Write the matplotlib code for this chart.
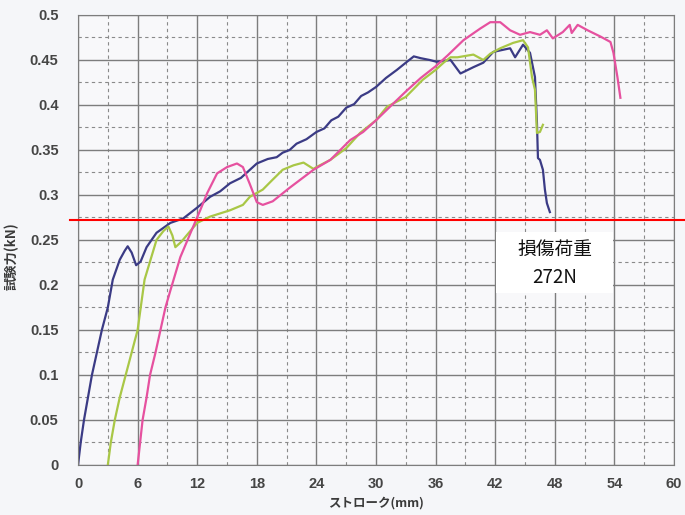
import numpy as np
import matplotlib.pyplot as plt
from matplotlib.patches import Rectangle
from matplotlib.ticker import MultipleLocator

plt.rcParams['font.family'] = ['Noto Sans CJK JP', 'DejaVu Sans']

# 試験片1 (紺)
x1 = [0, 0.27, 0.6, 1.0, 1.4, 1.9, 2.4, 3.0, 3.5, 4.2, 4.7, 5.0, 5.4, 5.85, 6.3,
      6.9, 7.9, 9.3, 10.6, 12.0, 13.3, 14.3, 15.3, 16.4, 17.3, 18.0, 19.1, 20.0,
      20.6, 21.3, 22.0, 23.0, 24.0, 24.8, 25.5, 26.2, 27.0, 27.8, 28.5, 29.2, 30.0,
      31.0, 32.1, 33.0, 33.8, 34.5, 35.4, 36.1, 37.5, 38.5, 39.8, 40.8, 41.8, 43.5,
      44.0, 44.8, 45.5, 46.0, 46.2, 46.3, 46.5, 46.8, 47.0, 47.2, 47.5]
y1 = [0, 0.025, 0.05, 0.075, 0.1, 0.125, 0.15, 0.175, 0.206, 0.228, 0.238, 0.243,
      0.236, 0.222, 0.226, 0.242, 0.258, 0.269, 0.274, 0.286, 0.298, 0.304, 0.313,
      0.319, 0.328, 0.335, 0.34, 0.342, 0.347, 0.35, 0.357, 0.362, 0.37, 0.374,
      0.383, 0.387, 0.397, 0.401, 0.41, 0.414, 0.42, 0.43, 0.439, 0.447, 0.454,
      0.452, 0.45, 0.448, 0.45, 0.435, 0.442, 0.447, 0.459, 0.463, 0.453, 0.467,
      0.458, 0.431, 0.38, 0.341, 0.339, 0.328, 0.306, 0.291, 0.281]

# 試験片2 (黄緑)
x2 = [3.0, 3.3, 3.7, 4.2, 4.8, 5.4, 6.0, 6.7, 7.9, 8.6, 9.1, 9.5, 9.8, 10.4, 11.0,
      12.0, 13.3, 15.3, 16.6, 17.3, 18.6, 19.5, 20.6, 21.7, 22.7, 23.7, 24.0, 25.4,
      27.0, 28.4, 30.0, 31.1, 33.0, 34.7, 36.0, 36.8, 37.5, 38.2, 39.8, 40.8, 41.5,
      42.5, 43.8, 44.8, 45.3, 45.7, 46.0, 46.2, 46.5, 46.8]
y2 = [0, 0.025, 0.05, 0.075, 0.1, 0.125, 0.15, 0.206, 0.25, 0.26, 0.265, 0.255,
      0.242, 0.248, 0.256, 0.269, 0.276, 0.283, 0.289, 0.298, 0.306, 0.316, 0.328,
      0.333, 0.336, 0.329, 0.331, 0.339, 0.352, 0.369, 0.383, 0.398, 0.409, 0.428,
      0.439, 0.447, 0.453, 0.453, 0.456, 0.450, 0.457, 0.463, 0.469, 0.472, 0.464,
      0.431, 0.417, 0.369, 0.37, 0.378]

# 試験片3 (ピンク)
x3 = [6.0, 6.25, 6.5, 6.9, 7.25, 7.8, 8.3, 8.8, 9.3, 10.3, 11.6, 12.3, 13.0, 14.0,
      15.0, 16.0, 16.6, 17.3, 18.0, 18.6, 19.6, 21.3, 23.7, 25.4, 27.4, 28.7, 30.0,
      31.4, 33.0, 34.5, 36.0, 37.2, 38.8, 40.5, 41.5, 42.5, 43.5, 44.5, 45.5, 46.5,
      47.2, 47.8, 48.8, 49.5, 49.7, 50.3, 51.3, 52.6, 53.6, 53.9, 54.3, 54.6]
y3 = [0, 0.025, 0.05, 0.075, 0.1, 0.125, 0.15, 0.175, 0.194, 0.231, 0.265, 0.283,
      0.302, 0.324, 0.331, 0.335, 0.331, 0.312, 0.292, 0.289, 0.293, 0.308, 0.328,
      0.339, 0.361, 0.37, 0.383, 0.398, 0.415, 0.43, 0.443, 0.455, 0.472, 0.485,
      0.492, 0.492, 0.483, 0.478, 0.481, 0.478, 0.483, 0.474, 0.481, 0.489, 0.48,
      0.489, 0.483, 0.476, 0.47, 0.458, 0.431, 0.408]

damage_load = 0.272  # kN
damage_text = '損傷荷重\n272N'

xticks = np.arange(0, 61, 6)
yticks = np.arange(0, 0.51, 0.05)

fig = plt.figure(figsize=(6.85, 5.15), dpi=100, facecolor='#f5f6f9')
ax = fig.add_axes([0.1139, 0.0971, 0.8701, 0.8738])
ax.set_facecolor('#f8f8fa')

ax.plot(x1, y1, color='#3b3b85', lw=1.6)
ax.plot(x2, y2, color='#a9c746', lw=1.6)
ax.plot(x3, y3, color='#e6519f', lw=1.6)

ax.set_xlim(0, 60)
ax.set_ylim(0, 0.5)
ax.set_xticks(xticks)
ax.set_yticks(yticks)
ax.set_yticklabels(['0', '0.05', '0.1', '0.15', '0.2', '0.25', '0.3', '0.35',
                    '0.4', '0.45', '0.5'])
ax.xaxis.set_minor_locator(MultipleLocator(3))
ax.yaxis.set_minor_locator(MultipleLocator(0.025))
ax.grid(which='major', color='#7d7d7d', lw=1.0)
ax.grid(which='minor', color='#8a8a8a', lw=0.8, linestyle=(0, (3, 3)))
ax.set_axisbelow(True)
ax.tick_params(which='both', length=0)
ax.tick_params(axis='x', pad=9)
ax.tick_params(axis='y', pad=14)
for lab in ax.get_xticklabels() + ax.get_yticklabels():
    lab.set_family(['Liberation Sans', 'DejaVu Sans'])
    lab.set_fontweight('bold')
    lab.set_fontsize(10.5)
    lab.set_color('#454545')
for s in ax.spines.values():
    s.set_color('#7d7d7d')

ax.set_xlabel('ストローク(mm)', fontsize=9, fontweight='bold', color='#3a3a3a')
ax.set_ylabel('試験力(kN)', fontsize=9.5, fontweight='bold', color='#3a3a3a')
ax.xaxis.set_label_coords(0.5, -0.07)
ax.yaxis.set_label_coords(-0.1, 0.465)

# 損傷荷重ライン
ax.axhline(damage_load, xmin=-0.014, xmax=1.02, color='#ff0000', lw=1.5,
           clip_on=False, zorder=5)
ax.add_patch(Rectangle((42.1, 0.191), 11.8, 0.068, facecolor='white',
                       edgecolor='none', zorder=6))
ax.text(48.0, 0.2235, damage_text, ha='center', va='center', fontsize=13.5,
        linespacing=1.45, color='#111111', zorder=7)

fig.savefig('out.png', dpi=100, facecolor=fig.get_facecolor())
